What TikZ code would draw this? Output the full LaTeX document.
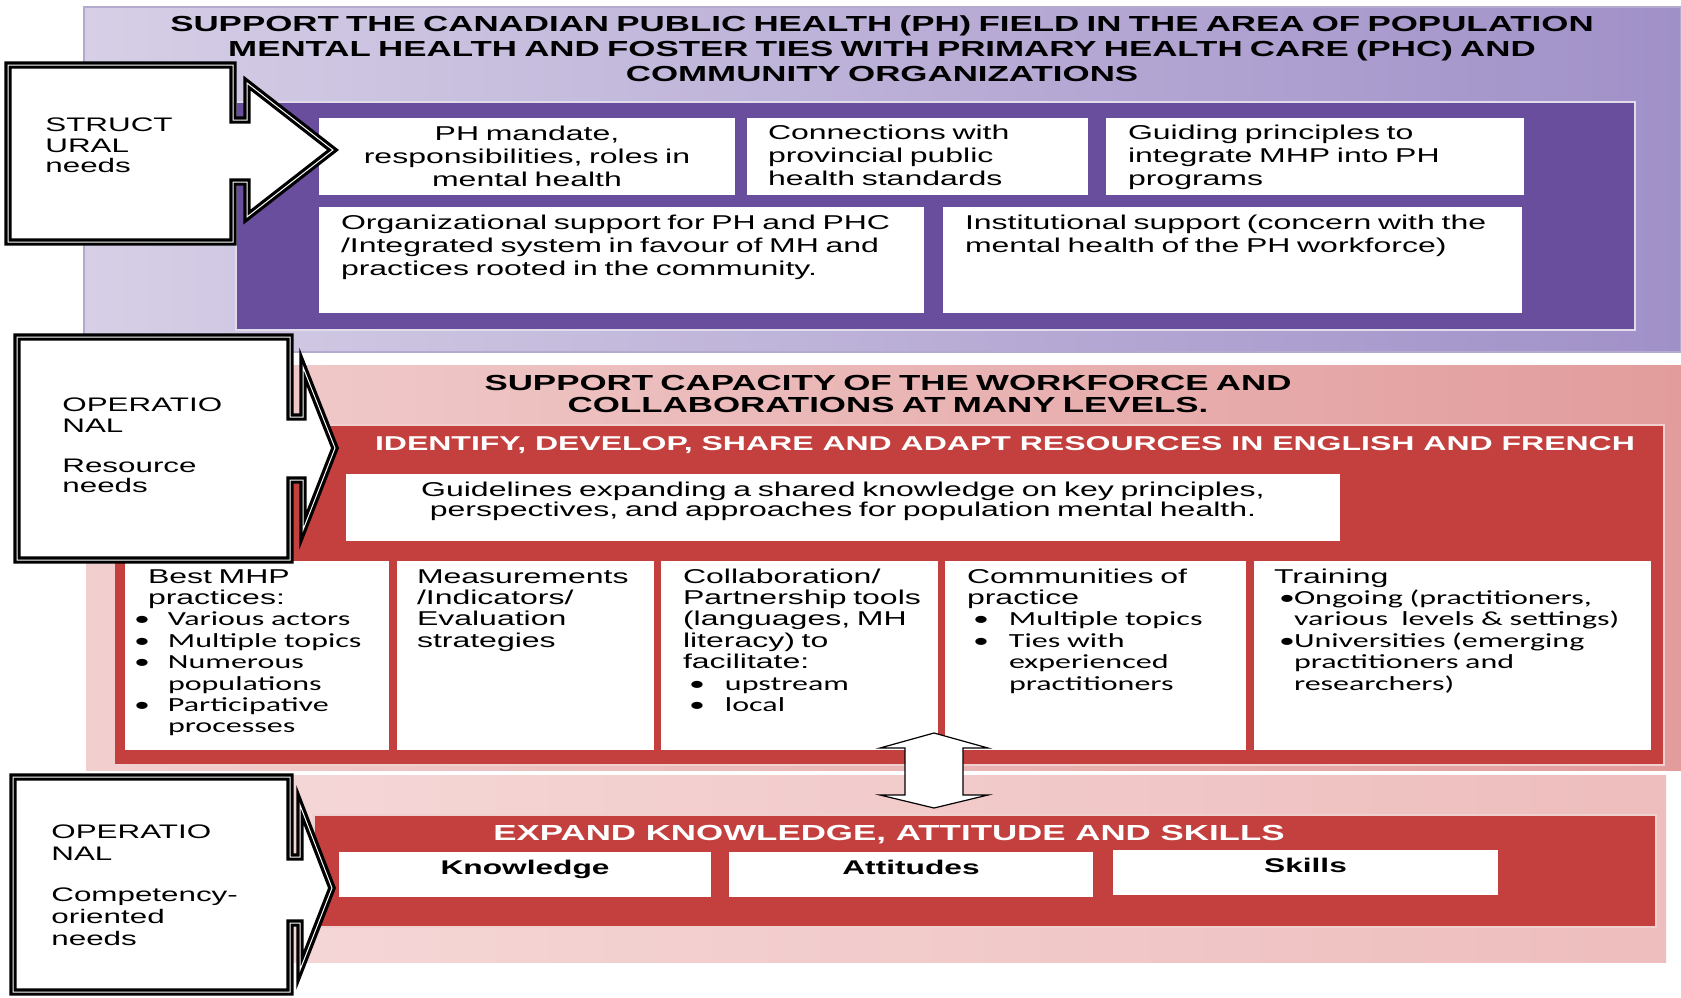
\documentclass[tikz,border=0pt]{standalone}
\usepackage{fontspec}
\setmainfont{Liberation Sans}[FakeStretch=1.6]
\newfontfamily\calfont{Carlito}[FakeStretch=1.6]
\usepackage{tikz}
\usetikzlibrary{positioning}
\usetikzlibrary{fit}
\definecolor{lavlight}{HTML}{D6CFE6}
\definecolor{lavdark}{HTML}{A090C8}
\definecolor{lavborder}{HTML}{B4AACF}
\definecolor{phpurple}{HTML}{6A4E9E}
\definecolor{pinklight}{HTML}{F2CFCF}
\definecolor{pinkdark}{HTML}{E29C9C}
\definecolor{pinkpale}{HTML}{F6DADA}
\definecolor{pinkmid}{HTML}{EEBDBD}
\definecolor{capred}{HTML}{C3403E}
\newcommand{\firstln}{\rule{0pt}{8pt}}
\newcommand{\bitem}[2][17pt]{\makebox[#1][l]{\calfont\textbullet}{\calfont #2}}
\newcommand{\bcont}[2][17pt]{\hspace*{#1}{\calfont #2}}
\tikzset{
  needline/.style={draw=black, line width=1.6pt, double=white, double distance=0.5pt, fill=white, line join=miter},
  updown/.style={draw=black, fill=white, line width=0.6pt, line join=miter},
  whitebox/.style={fill=white, inner sep=0pt},
  boxtext/.style={inner sep=0pt, align=left, text width=300pt, font=\fontsize{10}{11.5}\selectfont},
  coltext/.style={inner sep=0pt, align=left, text width=200pt, font=\fontsize{10}{10.7}\selectfont},
  sidetext/.style={inner sep=0pt, align=left, text width=110pt, font=\fontsize{9.8}{10.3}\selectfont},
  bigtitle/.style={inner sep=0pt, anchor=north, align=center, text width=780pt, font=\bfseries\fontsize{10.9}{12.5}\selectfont},
  redtitle/.style={inner sep=0pt, anchor=north, text=white, font=\bfseries\fontsize{10}{11}\selectfont},
  boldlbl/.style={inner sep=0pt, anchor=base, font=\bfseries\fontsize{9.9}{11}\selectfont},
}
\begin{document}
\begin{tikzpicture}[x=0.5pt, y=-0.5pt]
    \useasboundingbox[fill=white] (0,0) rectangle (1681,997);

    \path[left color=lavlight, right color=lavdark, draw=lavborder, line width=0.6pt] (84,7) rectangle (1681,352);
    \path[fill=phpurple, draw=white!80!phpurple, line width=1pt] (236,102) rectangle (1635,330);
    \path[left color=pinklight, right color=pinkdark] (86,365) rectangle (1681,770);
    \path[fill=capred, draw=white!75!capred, line width=0.8pt] (114,425) rectangle (1664,765);
    \path[left color=pinkpale, right color=pinkmid] (86,775) rectangle (1666,962);
    \path[fill=capred, draw=white!75!capred, line width=0.8pt] (314,815) rectangle (1656,927);

    \node[bigtitle] (toptitle) at (882,15) {\firstln SUPPORT THE CANADIAN PUBLIC HEALTH (PH) FIELD IN THE AREA OF POPULATION\\MENTAL HEALTH AND FOSTER TIES WITH PRIMARY HEALTH CARE (PHC) AND\\COMMUNITY ORGANIZATIONS};

    \node[whitebox, fit={(319,118) (735,195)}] (b1) {};
    \node[whitebox, fit={(747,118) (1088,195)}] (b2) {};
    \node[whitebox, fit={(1106,118) (1524,195)}] (b3) {};
    \node[whitebox, fit={(319,207) (924,313)}] (b4) {};
    \node[whitebox, fit={(943,207) (1522,313)}] (b5) {};

    \node[boxtext, align=center, text width=220pt, below=3pt of b1.north] (b1t) {\firstln PH mandate,\\responsibilities, roles in\\mental health};
    \node[boxtext, below right=2.5pt and 10.5pt of b2.north west] (b2t) {\firstln Connections with\\provincial public\\health standards};
    \node[boxtext, below right=2.5pt and 11pt of b3.north west] (b3t) {\firstln Guiding principles to\\integrate MHP into PH\\programs};
    \node[boxtext, below right=3pt and 11pt of b4.north west] (b4t) {\firstln Organizational support for PH and PHC\\/Integrated system in favour of MH and\\practices rooted in the community.};
    \node[boxtext, below right=3pt and 11pt of b5.north west] (b5t) {\firstln Institutional support (concern with the\\mental health of the PH workforce)};

    \node[bigtitle, font=\bfseries\fontsize{10.9}{11}\selectfont] (midtitle) at (888,374) {\firstln SUPPORT CAPACITY OF THE WORKFORCE AND\\COLLABORATIONS AT MANY LEVELS.};
    \node[redtitle] (resources) at (1005,434) {\firstln IDENTIFY, DEVELOP, SHARE AND ADAPT RESOURCES IN ENGLISH AND FRENCH};

    \node[whitebox, fit={(346,474) (1340,541)}] (guide) {};
    \node[boxtext, align=center, text width=460pt, font=\fontsize{10}{9}\selectfont, below=3pt of guide.north] (guidet) {\firstln Guidelines expanding a shared knowledge on key principles,\\perspectives, and approaches for population mental health.};

    \node[whitebox, fit={(125,561) (389,750)}] (c1) {};
    \node[whitebox, fit={(397,561) (654,750)}] (c2) {};
    \node[whitebox, fit={(661,561) (938,750)}] (c3) {};
    \node[whitebox, fit={(945,561) (1246,750)}] (c4) {};
    \node[whitebox, fit={(1254,561) (1651,750)}] (c5) {};

    \node[coltext, below right=3pt and 4.5pt of c1.north west] (c1t) {\firstln\hspace*{7pt}Best MHP\\
      \hspace*{7pt}practices:\\
      \bitem{Various actors}\\
      \bitem{Multiple topics}\\
      \bitem{Numerous}\\
      \bcont{populations}\\
      \bitem{Participative}\\
      \bcont{processes}};
    \node[coltext, below right=3pt and 10pt of c2.north west] (c2t) {\firstln Measurements\\/Indicators/\\Evaluation\\strategies};
    \node[coltext, below right=3pt and 11pt of c3.north west] (c3t) {\firstln Collaboration/\\Partnership tools\\(languages, MH\\literacy) to\\facilitate:\\
      \hspace*{3pt}\bitem[18pt]{upstream}\\
      \hspace*{3pt}\bitem[18pt]{local}};
    \node[coltext, below right=3pt and 11pt of c4.north west] (c4t) {\firstln Communities of\\practice\\
      \hspace*{3pt}\bitem[18pt]{Multiple topics}\\
      \hspace*{3pt}\bitem[18pt]{Ties with}\\
      \bcont[21pt]{experienced}\\
      \bcont[21pt]{practitioners}};
    \node[coltext, below right=3pt and 10pt of c5.north west] (c5t) {\firstln Training\\
      \hspace*{2.5pt}\bitem[7.5pt]{Ongoing (practitioners,}\\
      \bcont[10pt]{various \ levels \& settings)}\\
      \hspace*{2.5pt}\bitem[7.5pt]{Universities (emerging}\\
      \bcont[10pt]{practitioners and}\\
      \bcont[10pt]{researchers)}};

    \node[redtitle, font=\bfseries\fontsize{10.9}{11}\selectfont] (expand) at (889,824) {\firstln EXPAND KNOWLEDGE, ATTITUDE AND SKILLS};

    \node[whitebox, fit={(339,852) (711,897)}] (know) {};
    \node[whitebox, fit={(729,852) (1093,897)}] (att) {};
    \node[whitebox, fit={(1113,850) (1498,895)}] (skill) {};
    \node[boldlbl] (knowt) at (know.center) {Knowledge};
    \node[boldlbl] (attt) at (att.center) {Attitudes};
    \node[boldlbl] (skillt) at (skill.center) {Skills};

    \draw[updown] (934,733) -- (988,748) -- (963,748) -- (963,795) -- (988,795) -- (934,808) -- (880,795) -- (905,795) -- (905,748) -- (880,748) -- cycle;

    \coordinate (s1) at (8,65);
    \coordinate (s2) at (17,337);
    \coordinate (s3) at (13,777);
    \filldraw[needline] (s1) -- (233,65) -- (233,120) -- (247,120) -- (247,83) -- (333,150) -- (247,217) -- (247,182) -- (233,182) -- (233,242) -- (8,242) -- cycle;
    \filldraw[needline] (s2) -- (290,337) -- (290,417) -- (303,417) -- (303,367) -- (335,448) -- (303,530) -- (303,480) -- (290,480) -- (290,560) -- (17,560) -- cycle;
    \filldraw[needline] (s3) -- (290,777) -- (290,857) -- (300,857) -- (300,805) -- (332,888) -- (300,970) -- (300,923) -- (290,923) -- (290,992) -- (13,992) -- cycle;

    \node[sidetext, below right=25pt and 18.5pt of s1] (s1t) {\firstln STRUCT\\URAL\\needs};
    \node[sidetext, below right=29pt and 22.5pt of s2] (s2t) {\firstln OPERATIO\\NAL\\[9.7pt]Resource\\needs};
    \node[sidetext, font=\fontsize{9.8}{11}\selectfont, below right=22.5pt and 19pt of s3] (s3t) {\firstln OPERATIO\\NAL\\[9.5pt]Competency-\\oriented\\needs};
\end{tikzpicture}
\end{document}
